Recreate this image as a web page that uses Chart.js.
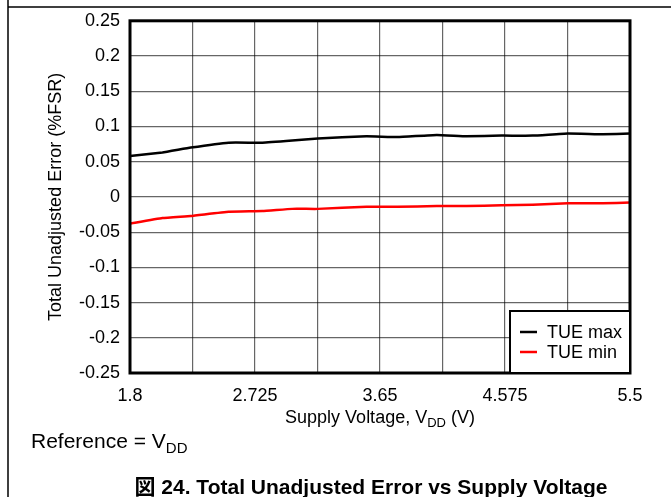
<!DOCTYPE html>
<html>
<head>
<meta charset="utf-8">
<script src="https://cdn.jsdelivr.net/npm/chart.js@4/dist/chart.umd.min.js"></script>
<style>
  html, body { margin: 0; padding: 0; background: #fff; }
  #wrap { width: 671px; height: 497px; }
</style>
</head>
<body>
<div id="wrap"><canvas id="tueChart" width="671" height="497"></canvas></div>
<script>
// data
const supplyVoltage = [1.8, 2.04, 2.25, 2.53, 2.78, 3.0, 3.19, 3.55, 3.78, 4.07, 4.29, 4.55, 4.78, 5.04, 5.3, 5.5];
const tueMax = [0.058, 0.063, 0.070, 0.077, 0.077, 0.080, 0.083, 0.086, 0.085, 0.088, 0.086, 0.087, 0.087, 0.090, 0.089, 0.090];
const tueMin = [-0.038, -0.030, -0.027, -0.021, -0.020, -0.017, -0.017, -0.014, -0.014, -0.013, -0.013, -0.012, -0.011, -0.009, -0.009, -0.008];
const xGridValues = [1.8, 2.2625, 2.725, 3.1875, 3.65, 4.1125, 4.575, 5.0375, 5.5];
const xTickLabels = ["1.8", "", "2.725", "", "3.65", "", "4.575", "", "5.5"];
const seriesLabels = ["TUE max", "TUE min"];
const seriesColors = ["#000000", "#ff0000"];

const FONT = "'Liberation Sans', Arial, sans-serif";

const toPoints = (ys) => supplyVoltage.map((x, i) => ({ x: x, y: ys[i] }));

const decorPlugin = {
    id: "decor",
    afterDraw(chart) {
        const ctx = chart.ctx;
        const area = chart.chartArea;
        ctx.save();

        // page frame lines
        ctx.strokeStyle = "#000";
        ctx.lineWidth = 1.5;
        ctx.beginPath();
        ctx.moveTo(8, 0);
        ctx.lineTo(8, 497);
        ctx.moveTo(8, 7);
        ctx.lineTo(671, 7);
        ctx.stroke();

        // plot frame
        ctx.lineWidth = 3;
        ctx.strokeRect(area.left, area.top, area.right - area.left, area.bottom - area.top);

        // y title
        ctx.fillStyle = "#000";
        ctx.font = "18px " + FONT;
        ctx.textAlign = "center";
        ctx.textBaseline = "middle";
        ctx.save();
        ctx.translate(56, (area.top + area.bottom) / 2);
        ctx.rotate(-Math.PI / 2);
        ctx.fillText("Total Unadjusted Error (%FSR)", 0, 0);
        ctx.restore();

        // x title with subscript
        const mainFont = "18px " + FONT;
        const subFont = "13px " + FONT;
        ctx.textAlign = "left";
        ctx.textBaseline = "alphabetic";
        ctx.font = mainFont;
        const p1 = "Supply Voltage, V";
        const p3 = " (V)";
        const w1 = ctx.measureText(p1).width;
        const w3 = ctx.measureText(p3).width;
        ctx.font = subFont;
        const w2 = ctx.measureText("DD").width;
        let x0 = (area.left + area.right) / 2 - (w1 + w2 + w3) / 2;
        const base = 423;
        ctx.font = mainFont;
        ctx.fillText(p1, x0, base);
        ctx.font = subFont;
        ctx.fillText("DD", x0 + w1, base + 4);
        ctx.font = mainFont;
        ctx.fillText(p3, x0 + w1 + w2, base);

        // reference note
        ctx.font = "21px " + FONT;
        const r1 = "Reference = V";
        ctx.fillText(r1, 31, 448);
        const rw = ctx.measureText(r1).width;
        ctx.font = "15px " + FONT;
        ctx.fillText("DD", 31 + rw, 453);

        // caption
        ctx.font = "bold 21px " + FONT + ", 'Noto Sans CJK JP'";
        ctx.textAlign = "center";
        ctx.fillText("\u56F3 24. Total Unadjusted Error vs Supply Voltage", 371, 494);

        // legend box
        const lx = 510, ly = 311, lw = area.right - 510, lh = area.bottom - 311;
        ctx.fillStyle = "#fff";
        ctx.fillRect(lx, ly, lw, lh);
        ctx.lineWidth = 2;
        ctx.strokeStyle = "#000";
        ctx.strokeRect(lx, ly, lw, lh);
        ctx.font = "18px " + FONT;
        ctx.textAlign = "left";
        ctx.textBaseline = "middle";
        chart.data.datasets.forEach((ds, i) => {
            const yy = 332 + i * 20;
            ctx.strokeStyle = ds.borderColor;
            ctx.lineWidth = 2.5;
            ctx.beginPath();
            ctx.moveTo(520, yy);
            ctx.lineTo(537, yy);
            ctx.stroke();
            ctx.fillStyle = "#000";
            ctx.fillText(ds.label, 547, yy + 1);
        });

        ctx.restore();
    }
};

new Chart(document.getElementById("tueChart").getContext("2d"), {
    type: "line",
    data: {
        datasets: [
            {
                label: seriesLabels[0],
                data: toPoints(tueMax),
                borderColor: seriesColors[0],
                borderWidth: 2.5,
                pointRadius: 0,
                tension: 0.1,
                fill: false,
            },
            {
                label: seriesLabels[1],
                data: toPoints(tueMin),
                borderColor: seriesColors[1],
                borderWidth: 2.5,
                pointRadius: 0,
                tension: 0.1,
                fill: false,
            },
        ],
    },
    options: {
        responsive: false,
        animation: false,
        events: [],
        layout: { padding: { left: 0, top: 20, right: 41, bottom: 0 } },
        plugins: {
            legend: { display: false },
            tooltip: { enabled: false },
        },
        scales: {
            x: {
                type: "linear",
                min: 1.8,
                max: 5.5,
                afterBuildTicks: (scale) => {
                    scale.ticks = xGridValues.map(v => ({ value: v }));
                },
                afterFit: (scale) => { scale.height = 124; },
                ticks: {
                    autoSkip: false,
                    maxRotation: 0,
                    padding: 12,
                    color: "#000",
                    font: { family: FONT, size: 18 },
                    callback: (v, i) => xTickLabels[i],
                },
                grid: { color: "rgba(0,0,0,0.6)", lineWidth: 1.2, drawTicks: false },
                border: { display: false },
            },
            y: {
                min: -0.25,
                max: 0.25,
                afterFit: (scale) => { scale.width = 130; },
                ticks: {
                    stepSize: 0.05,
                    padding: 10,
                    color: "#000",
                    font: { family: FONT, size: 18 },
                    callback: (v) => Number(v.toFixed(2)).toString(),
                },
                grid: { color: "rgba(0,0,0,0.6)", lineWidth: 1.2, drawTicks: false },
                border: { display: false },
            },
        },
    },
    plugins: [decorPlugin],
});
</script>
</body>
</html>
